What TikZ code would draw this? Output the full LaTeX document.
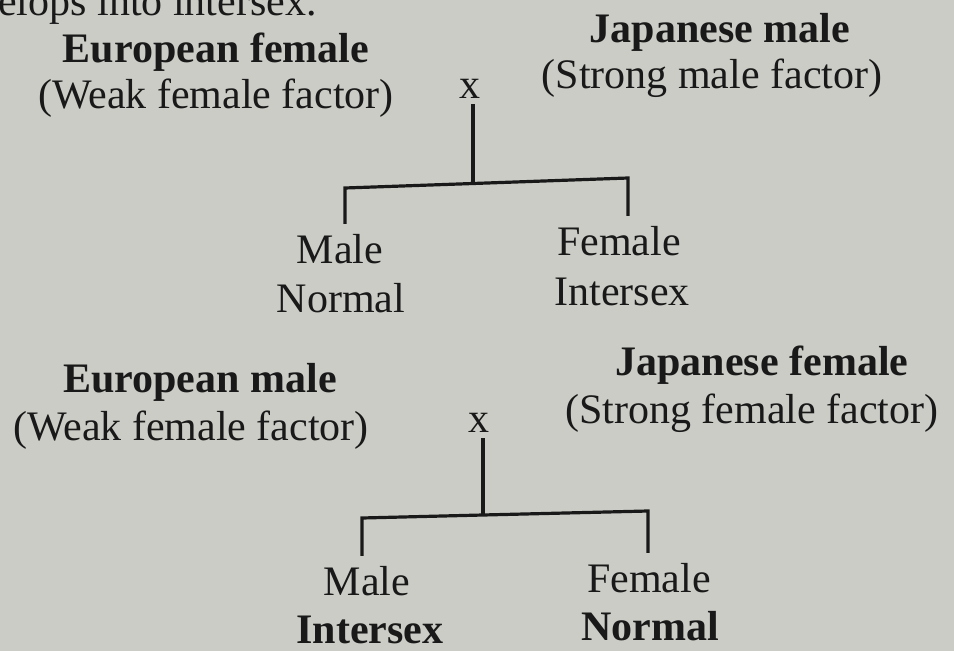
\documentclass[tikz,border=0pt]{standalone}
\usepackage{fontspec}
\setmainfont{Liberation Serif}
\definecolor{PaperGray}{rgb}{0.800,0.800,0.780}
\definecolor{InkBlack}{rgb}{0.100,0.100,0.100}

\begin{document}
\begin{tikzpicture}[x=1pt, y=-1pt,
  txt/.style={InkBlack, inner sep=0pt, anchor=base, font=\fontsize{42}{49}\selectfont},
  bold/.style={txt, font=\fontsize{42}{49}\selectfont\bfseries},
  cross/.style={txt, outer sep=6pt},
  kid/.style={txt, outer sep=10pt},
  bar/.style={InkBlack, line width=3.2pt}]

% ============================================================
% Page background (photographed paper)
% ============================================================
\fill[PaperGray] (0,0) rectangle (954,651);
\useasboundingbox (0,0) rectangle (954,651);

% cut-off line of the running text
\node[txt, anchor=base west] (runon) at (-2,15) {elops into intersex.};

% ============================================================
% CROSS 1: European female x Japanese male
% ============================================================

% Parents
\node[bold] (euF)  at (216,62)  {European female};
\node[txt]  (euFf) at (216,108) {(Weak female factor)};
\node[bold] (jpM)  at (720,42)  {Japanese male};
\node[txt]  (jpMf) at (712,88)  {(Strong male factor)};
\node[cross] (xA) at (470,98) {x};

% Offspring
\node[kid] (maleA)   at (340,263) {Male};
\node[txt] (maleAs)  at (341,312) {Normal};
\node[kid] (femA)    at (619,255) {Female};
\node[txt] (femAs)   at (622,305) {Intersex};

% Bracket
\coordinate (lA) at (345,188);
\coordinate (jA) at (473,183.5);
\coordinate (rA) at (628,178);
\draw[bar] (jA |- xA.south) -- (jA);
\draw[bar] (lA |- maleA.north) -- (lA) -- (jA) -- (rA) -- (rA |- femA.north);

% ============================================================
% CROSS 2: European male x Japanese female
% ============================================================

% Parents
\node[bold] (euM)  at (200,392) {European male};
\node[txt]  (euMf) at (191,440) {(Weak female factor)};
\node[bold] (jpF)  at (762,375) {Japanese female};
\node[txt]  (jpFf) at (752,423) {(Strong female factor)};
\node[cross] (xB) at (479,432) {x};

% Offspring
\node[kid]  (maleB)  at (367,595) {Male};
\node[bold] (maleBs) at (370,643) {Intersex};
\node[kid]  (femB)   at (649,592) {Female};
\node[bold] (femBs)  at (650,640) {Normal};

% Bracket
\coordinate (lB) at (362,518);
\coordinate (jB) at (483,515);
\coordinate (rB) at (648,511);
\draw[bar] (jB |- xB.south) -- (jB);
\draw[bar] (lB |- maleB.north) -- (lB) -- (jB) -- (rB) -- (rB |- femB.north);

\end{tikzpicture}
\end{document}
